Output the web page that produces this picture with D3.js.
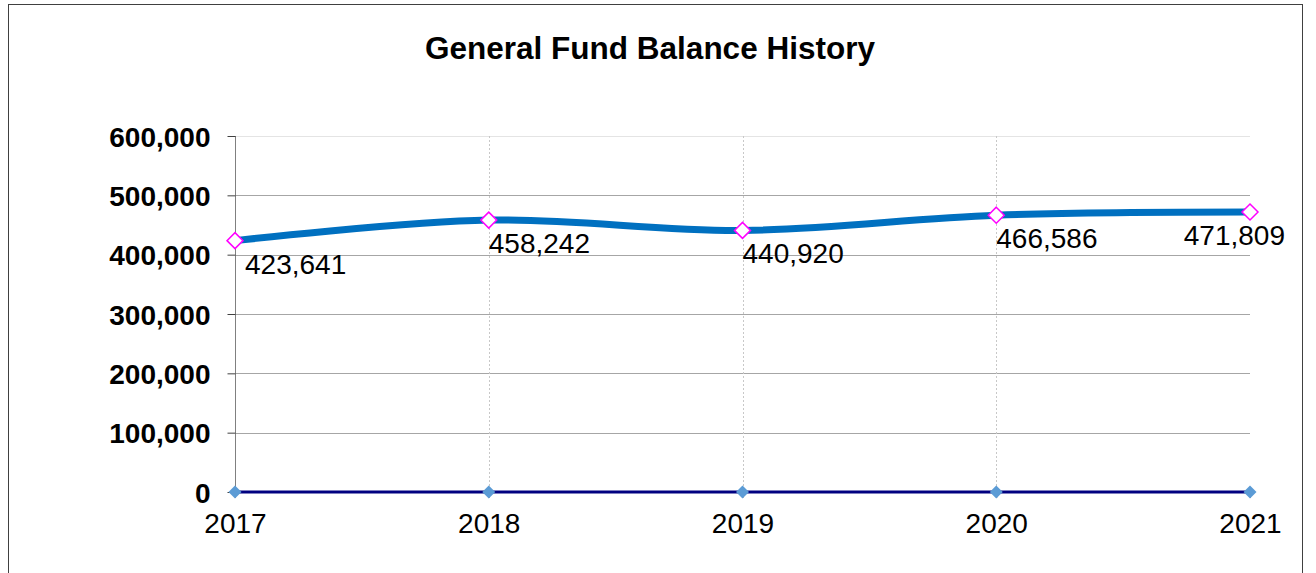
<!DOCTYPE html>
<html>
<head>
<meta charset="utf-8">
<script src="https://cdn.jsdelivr.net/npm/d3@7"></script>
<style>
  body { margin: 0; background: #fff; }
  text { font-family: "Liberation Sans", Arial, sans-serif; }
</style>
</head>
<body>
<div id="chart"></div>
<script>
// data
const years = ["2017", "2018", "2019", "2020", "2021"];
const balance = [423641, 458242, 440920, 466586, 471809];
const baseline = [0, 0, 0, 0, 0];
const yTicks = [0, 100000, 200000, 300000, 400000, 500000, 600000];

const W = 1316, H = 573;
const margin = {top: 136, right: 66, bottom: 81, left: 235},
    width = W - margin.left - margin.right,
    height = H - margin.top - margin.bottom;

const root = d3.select("#chart")
  .append("svg")
    .attr("width", W)
    .attr("height", H);

// chart border
root.append("rect")
    .attr("x", 8.5).attr("y", 4.5)
    .attr("width", 1294).attr("height", 600)
    .attr("fill", "#fff")
    .attr("stroke", "#404040")
    .attr("stroke-width", 1);

// title
root.append("text")
    .attr("x", 650).attr("y", 59)
    .attr("text-anchor", "middle")
    .style("font-size", "31.5px")
    .style("font-weight", "bold")
    .text("General Fund Balance History");

const svg = root.append("g")
    .attr("transform", `translate(${margin.left},${margin.top})`);

// scales
const x = d3.scalePoint()
  .domain(years)
  .range([0, width]);

const y = d3.scaleLinear()
  .domain([0, 600000])
  .range([height, 0]);

// horizontal gridlines
svg.append("g")
  .selectAll("line")
  .data(yTicks.filter(d => d > 0))
  .join("line")
    .attr("x1", 0).attr("x2", width)
    .attr("y1", d => Math.round(y(d)) + 0.5)
    .attr("y2", d => Math.round(y(d)) + 0.5)
    .attr("stroke", d => d === 600000 ? "#e4e4e4" : "#a6a6a6")
    .attr("stroke-width", 1);

// vertical dashed gridlines
svg.append("g")
  .selectAll("line")
  .data(years.slice(1, -1))
  .join("line")
    .attr("x1", d => Math.round(x(d)) + 0.5)
    .attr("x2", d => Math.round(x(d)) + 0.5)
    .attr("y1", 0).attr("y2", height)
    .attr("stroke", "#c8c8c8")
    .attr("stroke-dasharray", "2,2");

// y axis
const yAxis = svg.append("g")
  .attr("transform", "translate(0.5,0)")
  .call(d3.axisLeft(y).tickValues(yTicks).tickSize(8).tickPadding(17)
    .tickFormat(d3.format(",")));
yAxis.select(".domain").attr("stroke", "#808080").attr("d", `M0,0V${height + 6}`);
yAxis.selectAll(".tick line").attr("stroke", "#404040");
yAxis.selectAll("text")
    .style("font-size", "28px")
    .style("font-weight", "bold")
    .attr("fill", "#000")
    .attr("dy", "0.36em");

// x axis
const xAxis = svg.append("g")
  .attr("transform", `translate(0,${height})`)
  .call(d3.axisBottom(x).tickSize(6).tickPadding(15));
xAxis.select(".domain").remove();
xAxis.selectAll(".tick line").attr("stroke", "#808080");
xAxis.selectAll("text")
    .style("font-size", "28px")
    .attr("fill", "#000");

// zero series
svg.append("path")
    .datum(baseline)
    .attr("fill", "none")
    .attr("stroke", "#000080")
    .attr("stroke-width", 3)
    .attr("d", d3.line().x((d, i) => x(years[i])).y(d => y(d)));

const diamond = r => `M0,${-r}L${r},0L0,${r}L${-r},0Z`;

svg.append("g")
  .selectAll("path")
  .data(baseline)
  .join("path")
    .attr("transform", (d, i) => `translate(${x(years[i])},${y(d)})`)
    .attr("d", diamond(6.5))
    .attr("fill", "#5b9bd5");

// balance series, smoothed
svg.append("path")
    .datum(balance)
    .attr("fill", "none")
    .attr("stroke", "#0070c0")
    .attr("stroke-width", 7)
    .attr("d", d3.line().curve(d3.curveCardinal.tension(0))
      .x((d, i) => x(years[i])).y(d => y(d)));

svg.append("g")
  .selectAll("path")
  .data(balance)
  .join("path")
    .attr("transform", (d, i) => `translate(${x(years[i])},${y(d)})`)
    .attr("d", diamond(8))
    .attr("fill", "#fff")
    .attr("stroke", "#ff00ff")
    .attr("stroke-width", 1.5);

// data labels
const labels = svg.append("g")
  .selectAll("text")
  .data(balance)
  .join("text")
    .attr("y", d => y(d) + 33)
    .style("font-size", "28px")
    .attr("fill", "#000")
    .text(d => d3.format(",")(d));

labels.attr("x", function(d, i) {
  const w = this.getComputedTextLength();
  const px = x(years[i]);
  return Math.min(Math.max(px, 10), 1285 - margin.left - w);
});
</script>
</body>
</html>
